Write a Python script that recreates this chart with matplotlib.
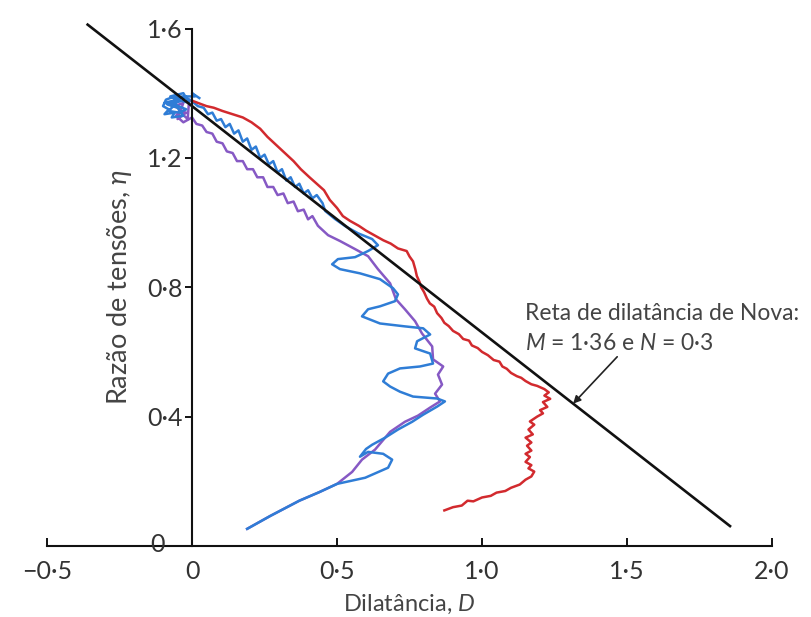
import numpy as np
import matplotlib
matplotlib.use("Agg")
import matplotlib.pyplot as plt

plt.rcParams["font.family"] = ["Lato", "DejaVu Sans"]
plt.rcParams["mathtext.fontset"] = "custom"
plt.rcParams["mathtext.rm"] = "Lato"
plt.rcParams["mathtext.it"] = "Lato:italic"
plt.rcParams["mathtext.fallback"] = "stixsans"

# ── Data (D, eta) ────────────────────────────────────────────
red_pts = [
    (0.87, 0.11), (0.90, 0.12), (0.93, 0.125), (0.95, 0.14), (0.97, 0.138),
    (1.00, 0.15), (1.03, 0.155), (1.05, 0.165), (1.08, 0.17), (1.10, 0.18),
    (1.13, 0.19), (1.15, 0.205), (1.17, 0.215), (1.18, 0.23), (1.16, 0.24),
    (1.17, 0.25), (1.15, 0.26), (1.165, 0.275), (1.15, 0.285), (1.17, 0.295),
    (1.155, 0.31), (1.17, 0.32), (1.15, 0.335), (1.175, 0.345), (1.16, 0.36),
    (1.18, 0.375), (1.165, 0.385), (1.19, 0.40), (1.21, 0.41), (1.20, 0.42),
    (1.225, 0.43), (1.21, 0.445), (1.235, 0.455), (1.215, 0.465), (1.23, 0.475),
    (1.215, 0.485), (1.19, 0.495), (1.17, 0.50), (1.15, 0.51), (1.135, 0.52),
    (1.12, 0.525), (1.10, 0.535), (1.085, 0.548), (1.07, 0.555), (1.06, 0.57),
    (1.04, 0.575), (1.02, 0.59), (1.00, 0.60), (0.985, 0.612), (0.965, 0.62),
    (0.955, 0.635), (0.935, 0.64), (0.92, 0.655), (0.90, 0.665), (0.885, 0.68),
    (0.87, 0.69), (0.86, 0.705), (0.845, 0.72), (0.835, 0.74), (0.82, 0.75),
    (0.81, 0.765), (0.80, 0.785), (0.79, 0.80), (0.785, 0.815), (0.775, 0.835),
    (0.77, 0.855), (0.762, 0.88), (0.75, 0.895), (0.74, 0.912), (0.71, 0.92),
    (0.685, 0.935), (0.66, 0.945), (0.63, 0.96), (0.60, 0.975), (0.575, 0.99),
    (0.545, 1.005), (0.52, 1.02), (0.50, 1.045), (0.475, 1.07), (0.455, 1.10),
    (0.43, 1.12), (0.405, 1.14), (0.375, 1.165), (0.35, 1.19), (0.32, 1.215),
    (0.29, 1.24), (0.26, 1.265), (0.235, 1.29), (0.205, 1.31), (0.175, 1.325),
    (0.14, 1.335), (0.105, 1.345), (0.075, 1.355), (0.05, 1.36), (0.02, 1.37),
    (0.0, 1.377),
]

blue_pts = [
    (0.19, 0.053), (0.27, 0.093), (0.37, 0.14), (0.44, 0.167), (0.50, 0.192),
    (0.597, 0.211), (0.676, 0.242), (0.69, 0.267), (0.659, 0.285), (0.607, 0.291),
    (0.579, 0.276), (0.60, 0.30), (0.621, 0.313), (0.666, 0.335), (0.71, 0.36),
    (0.759, 0.384), (0.797, 0.406), (0.845, 0.431), (0.872, 0.447), (0.845, 0.456),
    (0.803, 0.459), (0.762, 0.462), (0.717, 0.477), (0.683, 0.493), (0.659, 0.509),
    (0.676, 0.533), (0.717, 0.549), (0.786, 0.555), (0.831, 0.564), (0.821, 0.595),
    (0.769, 0.611), (0.776, 0.633), (0.821, 0.654), (0.797, 0.673), (0.734, 0.679),
    (0.648, 0.688), (0.586, 0.71), (0.607, 0.732), (0.648, 0.741), (0.70, 0.757),
    (0.71, 0.778), (0.693, 0.797), (0.648, 0.825), (0.579, 0.843), (0.51, 0.856),
    (0.483, 0.871), (0.503, 0.887), (0.562, 0.893), (0.607, 0.912), (0.641, 0.93),
    (0.621, 0.949), (0.572, 0.967), (0.528, 0.989), (0.493, 1.011), (0.459, 1.036),
    (0.45, 1.06), (0.43, 1.085), (0.415, 1.075), (0.40, 1.10), (0.385, 1.09),
    (0.37, 1.12), (0.355, 1.11), (0.34, 1.14), (0.325, 1.13), (0.31, 1.165),
    (0.295, 1.155), (0.28, 1.19), (0.265, 1.18), (0.25, 1.21), (0.235, 1.20),
    (0.22, 1.235), (0.205, 1.225), (0.19, 1.26), (0.175, 1.25), (0.16, 1.285),
    (0.145, 1.275), (0.13, 1.305), (0.115, 1.295), (0.10, 1.32), (0.085, 1.315),
    (0.07, 1.34), (0.055, 1.335), (0.04, 1.355), (0.02, 1.36), (0.0, 1.375),
    (-0.02, 1.385), (-0.06, 1.39), (-0.09, 1.38), (-0.10, 1.36), (-0.08, 1.35),
    (-0.095, 1.335), (-0.06, 1.34), (-0.07, 1.325), (-0.03, 1.33), (-0.05, 1.355),
    (-0.085, 1.365), (-0.04, 1.375), (-0.075, 1.39), (-0.03, 1.40), (-0.01, 1.37),
    (-0.05, 1.38), (-0.095, 1.37), (-0.06, 1.365), (-0.02, 1.35), (-0.045, 1.34),
    (-0.08, 1.345), (-0.035, 1.39), (0.01, 1.39), (0.0, 1.40), (0.025, 1.385),
]

purple_pts = [
    (0.19, 0.053), (0.27, 0.093), (0.37, 0.14), (0.44, 0.167), (0.50, 0.192),
    (0.552, 0.229), (0.586, 0.267), (0.631, 0.298), (0.683, 0.353), (0.734, 0.384),
    (0.779, 0.403), (0.821, 0.428), (0.855, 0.447), (0.838, 0.471), (0.862, 0.499),
    (0.848, 0.53), (0.866, 0.555), (0.831, 0.577), (0.828, 0.617), (0.793, 0.657),
    (0.769, 0.695), (0.734, 0.732), (0.703, 0.763), (0.683, 0.812), (0.641, 0.856),
    (0.607, 0.896), (0.562, 0.918), (0.51, 0.943), (0.469, 0.961), (0.434, 0.99),
    (0.415, 1.02), (0.40, 1.01), (0.385, 1.04), (0.365, 1.035), (0.35, 1.065),
    (0.33, 1.06), (0.315, 1.09), (0.295, 1.085), (0.28, 1.11), (0.26, 1.11),
    (0.245, 1.14), (0.225, 1.14), (0.21, 1.165), (0.19, 1.165), (0.175, 1.19),
    (0.155, 1.19), (0.14, 1.215), (0.12, 1.22), (0.105, 1.245), (0.085, 1.25),
    (0.07, 1.275), (0.05, 1.28), (0.035, 1.30), (0.015, 1.305), (0.0, 1.325),
    (-0.03, 1.31), (-0.055, 1.33), (-0.04, 1.35), (-0.06, 1.36), (-0.03, 1.37),
    (-0.05, 1.32), (-0.02, 1.34), (-0.045, 1.345), (-0.015, 1.32), (-0.01, 1.38),
]

# Nova dilatancy line: eta = M - (1 - N) * D
M, N = 1.36, 0.3
nova_D = np.array([-0.36, 1.855])
nova_eta = M - (1 - N) * nova_D

xticks = [-0.5, 0, 0.5, 1.0, 1.5, 2.0]
xtick_labels = ["\u22120\u00b75", "0", "0\u00b75", "1\u00b70", "1\u00b75", "2\u00b70"]
yticks = [0.4, 0.8, 1.2, 1.6]
ytick_labels = ["0\u00b74", "0\u00b78", "1\u00b72", "1\u00b76"]

# ── Plot ─────────────────────────────────────────────────────
fig = plt.figure(figsize=(8.11, 6.17), dpi=100)
ax = fig.add_axes([0.058, 0.1151, 0.894, 0.8387])

for pts, col in [(purple_pts, "#8659c4"), (blue_pts, "#2f7dd6"), (red_pts, "#d22a2e")]:
    arr = np.array(pts)
    ax.plot(arr[:, 0], arr[:, 1], color=col, lw=1.8, solid_joinstyle="round")

ax.plot(nova_D, nova_eta, color="#111111", lw=1.9, clip_on=False)

ax.annotate("", xy=(1.314, 0.44), xytext=(1.466, 0.585),
            arrowprops=dict(arrowstyle="-|>", color="#222222", lw=1.2,
                            mutation_scale=11, shrinkA=0, shrinkB=0))
ax.text(1.148, 0.72, "Reta de dilat\u00e2ncia de Nova:", fontsize=16.5,
        color="#444444", va="center", ha="left")
ax.text(1.148, 0.626, "$M$ = 1\u00b736 e $N$ = 0\u00b73", fontsize=16.5,
        color="#444444", va="center", ha="left")

ax.set_xlim(-0.5, 2.0)
ax.set_ylim(0, 1.6)
ax.spines["left"].set_position(("data", 0))
ax.spines["bottom"].set_position(("data", 0))
ax.spines["top"].set_visible(False)
ax.spines["right"].set_visible(False)
for s in ("left", "bottom"):
    ax.spines[s].set_linewidth(1.5)
    ax.spines[s].set_color("#111111")

ax.set_xticks(xticks)
ax.set_xticklabels(xtick_labels)
ax.set_yticks(yticks)
ax.set_yticklabels(ytick_labels)
ax.tick_params(axis="x", direction="in", length=6, width=1.3, pad=10,
               labelsize=18, labelcolor="#333333")
ax.tick_params(axis="y", direction="out", length=5, width=1.3, pad=2,
               labelsize=18, labelcolor="#333333")
# the y-axis "0" sits a little further left, on the x axis
ax.text(-0.12, 0.005, "0", fontsize=18, color="#333333", ha="center", va="center")

ax.set_xlabel("Dilat\u00e2ncia, $D$", fontsize=17, color="#444444")
ax.xaxis.set_label_coords(0.5, -0.09)
ax.set_ylabel("Raz\u00e3o de tens\u00f5es, $\\eta$", fontsize=19.5, color="#444444")
ax.yaxis.set_label_coords(0.12, 0.5)

plt.savefig("out.png", dpi=100)
